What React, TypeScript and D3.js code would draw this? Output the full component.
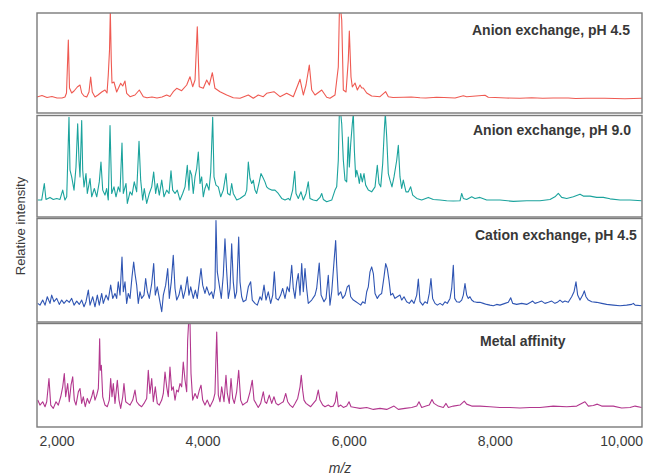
import React from 'react';
import * as d3 from 'd3';

type Pt = [number, number];

const panelTitles = ['Anion exchange, pH 4.5', 'Anion exchange, pH 9.0', 'Cation exchange, pH 4.5', 'Metal affinity'];
const xTickValues = [2000, 4000, 6000, 8000, 10000];
const xLabel = 'm/z';
const yLabel = 'Relative intensity';

// [m/z, relative intensity (% of panel height)]
const anion45: Pt[] = [
  [1725,16],[1793,17.5],[1862,15.5],[1930,16.5],[1999,15],[2067,15],[2108,16],[2129,20],[2154,73],[2170,25],[2200,20],[2232,22],[2277,26],[2314,28],[2337,20],[2369,17],[2406,16],[2437,21],[2460,36],[2482,21],[2519,16],[2560,18],[2611,21],[2656,23],[2684,20],[2701,38],[2718,63],[2729,102],[2742,53],[2752,30],[2779,31],[2816,21],[2871,29.7],[2899,27],[2930,32],[2953,19.7],[2999,16.3],[3067,18],[3126,23],[3181,16.3],[3231,15.3],[3300,16],[3368,15],[3437,16],[3501,18],[3546,16.5],[3591,21.3],[3638,24.7],[3706,22.3],[3775,28],[3820,36.3],[3857,26.3],[3889,33],[3920,86.3],[3947,26.3],[4002,24.7],[4049,33],[4085,28],[4126,40.3],[4162,24.7],[4231,21.3],[4323,18],[4413,15.3],[4505,14.7],[4619,18],[4687,14.7],[4755,18],[4824,16.3],[4870,19.7],[4970,21.3],[5053,16.3],[5144,19.7],[5235,16.3],[5327,33.7],[5372,18],[5409,28],[5454,48],[5487,23],[5532,18],[5624,23],[5692,15.7],[5737,14.7],[5806,18],[5851,46],[5866,102],[5885,102],[5898,93],[5920,23],[5957,21],[5988,53],[6002,82],[6025,36],[6043,26],[6080,30],[6112,23],[6148,28],[6172,25],[6193,25],[6240,20],[6308,17],[6422,16.3],[6500,21.3],[6536,16.3],[6600,15.5],[6741,15.7],[6850,16],[6970,15.3],[7050,15],[7198,15.7],[7300,15.5],[7450,15],[7563,17.3],[7609,16.3],[7860,17.7],[7905,15.7],[8000,15.5],[8150,15],[8339,14.7],[8500,15.3],[8650,14.8],[8795,15],[9000,15],[9100,14.5],[9252,14.7],[9500,14.8],[9777,14.3],[10010,14.7]
];

const anion90: Pt[] = [
  [1735,16.7],[1789,16.7],[1825,33],[1848,17.3],[1903,19.3],[1948,17.3],[1995,18.3],[2040,17.3],[2077,26.5],[2108,16.7],[2132,19.9],[2163,98.3],[2177,46.1],[2200,39.5],[2232,26.5],[2259,49.3],[2282,91.8],[2300,55.9],[2314,39.5],[2337,95.1],[2351,46.1],[2369,29.7],[2396,42.8],[2414,23.2],[2451,37.9],[2474,19.9],[2510,28.1],[2543,19.9],[2578,34.6],[2601,54.2],[2625,26.5],[2656,21.6],[2679,28.1],[2701,16.7],[2725,90.2],[2748,23.2],[2779,29.7],[2807,19.9],[2838,29.7],[2862,24.8],[2889,72.9],[2907,23.2],[2944,33],[2962,13.4],[2999,24.8],[3026,21.6],[3057,34.6],[3090,24.8],[3122,74.5],[3145,36.3],[3172,16.7],[3194,28.1],[3227,13.4],[3263,23.2],[3296,29.7],[3323,44.4],[3350,23.2],[3372,33],[3400,21.6],[3433,36.3],[3464,19.9],[3501,26.5],[3533,23.2],[3560,45.4],[3583,26.5],[3615,23.2],[3646,26.5],[3683,16.7],[3720,23.2],[3752,29.7],[3783,51],[3806,26.5],[3820,46.1],[3843,41.2],[3865,23.2],[3889,39.5],[3912,47.7],[3934,64],[3957,33],[3980,39.5],[4002,19.9],[4025,28.1],[4049,33],[4080,26.5],[4104,44.4],[4131,98.3],[4149,39.5],[4176,31.4],[4208,29.7],[4241,19.9],[4276,26.5],[4313,42.8],[4336,23.2],[4368,21.6],[4391,33],[4413,23.2],[4460,16.7],[4505,18.3],[4573,21.6],[4597,26.5],[4619,54.2],[4642,37.9],[4665,33],[4687,36.3],[4710,26.5],[4733,23.2],[4769,34.6],[4792,42.8],[4816,39.5],[4847,34.6],[4870,29.7],[4892,28.1],[4939,26.5],[4984,26.5],[5029,23.2],[5076,18.3],[5121,16.7],[5166,18.3],[5190,16.7],[5226,26.5],[5254,45.1],[5272,23.2],[5303,18.3],[5340,24.8],[5372,16.7],[5409,23.2],[5440,34.6],[5463,18.3],[5509,16.7],[5555,16],[5600,19.3],[5624,23.2],[5646,17.3],[5692,15],[5761,16.7],[5806,26.5],[5829,29.7],[5851,55.9],[5865,102],[5884,102],[5898,91.8],[5920,55.9],[5943,36.3],[5966,34.6],[5988,78.8],[6002,49.3],[6021,72.2],[6043,91.8],[6057,102],[6071,65.7],[6089,39.5],[6103,46.1],[6125,39.5],[6139,33],[6158,42.8],[6180,34.6],[6203,42.8],[6226,31.4],[6262,26.5],[6308,24.8],[6354,29.7],[6385,51],[6408,33],[6432,29.7],[6459,52.6],[6481,85.3],[6495,102],[6514,78.8],[6536,42.8],[6559,36.3],[6586,29.7],[6614,39.5],[6651,55.9],[6673,70.6],[6696,39.5],[6719,28.1],[6741,36.3],[6778,24.8],[6810,24.8],[6842,29.7],[6870,21.6],[6925,18.3],[6993,16.7],[7084,19.3],[7152,17.3],[7244,16.7],[7335,16],[7426,15.7],[7518,16],[7541,23.2],[7563,18.3],[7609,17.3],[7678,19.9],[7723,18.3],[7791,19.3],[7883,16.7],[8065,16.7],[8248,15.4],[8431,16],[8613,16],[8750,17.3],[8818,19.9],[8864,23.2],[8910,19.3],[8979,18.3],[9070,19.9],[9161,22.5],[9206,20.6],[9298,20.6],[9389,19.3],[9480,19.3],[9572,17.9],[9709,16.7],[9846,16.7],[10006,16]
];

const cation45: Pt[] = [
  [1735,18],[1766,16.3],[1803,21.2],[1835,16.3],[1866,24.4],[1903,18],[1926,26],[1958,19.6],[1995,22.8],[2030,17],[2063,21.2],[2095,18],[2132,21.2],[2167,19],[2200,22.8],[2232,16.3],[2269,20.2],[2304,17],[2337,21.2],[2369,14.7],[2396,19.6],[2428,30.8],[2451,16.3],[2488,24.4],[2519,14.7],[2551,26],[2578,16.3],[2611,27.6],[2633,18],[2670,26],[2701,21.2],[2734,35.6],[2762,22.8],[2793,27.6],[2816,22.8],[2838,38.8],[2862,26],[2889,62.8],[2907,29.2],[2930,38.8],[2953,18],[2975,27.6],[2999,22.8],[3026,43.6],[3049,58],[3067,46.8],[3090,35.6],[3112,18],[3135,29.2],[3158,22.8],[3190,26],[3213,42],[3236,29.2],[3263,22.8],[3296,37.2],[3323,56.4],[3345,26],[3372,34],[3400,22.8],[3433,9.9],[3455,26],[3487,35.6],[3515,51.6],[3537,22.8],[3564,38.8],[3591,64.4],[3615,32.4],[3638,21.2],[3669,26],[3697,35.6],[3728,22.8],[3756,30.8],[3783,43.6],[3806,26],[3830,34],[3865,22.8],[3893,30.8],[3920,22.8],[3948,38.8],[3971,51.6],[3994,35.6],[4025,27.6],[4049,34],[4085,26],[4117,29.2],[4139,22.8],[4162,32.4],[4176,98.1],[4194,48.4],[4221,35.6],[4249,22.8],[4276,45.2],[4299,80.4],[4323,48.4],[4345,22.8],[4368,32.4],[4391,75.6],[4413,38.8],[4436,22.8],[4459,29.2],[4487,82.1],[4505,38.8],[4528,24.4],[4550,19.6],[4587,21.2],[4619,34],[4651,38.8],[4673,21.2],[4710,18],[4742,16.3],[4779,24.4],[4802,21.2],[4834,35.6],[4861,21.2],[4892,29.2],[4925,18],[4953,26],[4975,48.4],[4998,22.8],[5029,21.2],[5062,26],[5089,32.4],[5121,22.8],[5152,34],[5180,29.2],[5213,54.8],[5235,32.4],[5258,22.8],[5281,38.8],[5303,46.8],[5327,26],[5350,56.4],[5372,29.2],[5395,51.6],[5418,32.4],[5440,18],[5487,21.2],[5532,26],[5555,32.4],[5590,57],[5615,26],[5655,19.6],[5683,22.8],[5714,45.2],[5737,16.3],[5761,29.2],[5792,58],[5815,78.8],[5829,54.8],[5851,26],[5884,29.2],[5911,22.8],[5943,26],[5974,34],[5998,35.6],[6021,24.4],[6057,21.2],[6093,19.6],[6125,18],[6158,16.3],[6185,19.6],[6217,18],[6240,29.2],[6262,34],[6285,48.4],[6308,53.2],[6331,46.8],[6354,27.6],[6385,22.8],[6413,26],[6445,27.6],[6477,43.6],[6500,56.4],[6522,51.6],[6545,40.4],[6569,26],[6596,27.6],[6627,22.8],[6659,24.4],[6696,26],[6719,21.2],[6751,24.4],[6787,19.6],[6823,18],[6856,21.2],[6888,18],[6925,26],[6947,41.4],[6970,19.6],[7007,16.3],[7038,19.6],[7070,18],[7097,27.6],[7120,42],[7143,22.8],[7175,18],[7207,16.3],[7244,18],[7280,16.3],[7312,19.6],[7344,18],[7381,22.8],[7404,32.4],[7426,54.8],[7445,22.8],[7472,19.6],[7508,19],[7541,21.2],[7563,26],[7586,37.2],[7609,26],[7631,22.8],[7654,24.4],[7678,21.2],[7709,19.6],[7746,19],[7791,19],[7837,18],[7883,17],[7928,16.3],[7974,15.7],[8020,17],[8065,16.3],[8134,18],[8179,19],[8212,23.4],[8239,18],[8294,17],[8362,18],[8431,17],[8485,19],[8513,20.2],[8545,18],[8590,19],[8636,20.2],[8681,18],[8727,19],[8773,20.2],[8818,18],[8850,19],[8887,21.2],[8924,19],[8955,20.2],[9000,19],[9047,24.4],[9079,29.2],[9106,38.8],[9129,26],[9161,21.2],[9198,26],[9220,30.1],[9243,24.4],[9275,21.2],[9321,19.6],[9389,19],[9458,18],[9526,17],[9617,16.3],[9709,15.7],[9800,16.3],[9869,17],[9892,18],[9915,16.3],[10006,15.7]
];

const metalAffinity: Pt[] = [
  [1735,26],[1766,21.2],[1803,24.4],[1835,19.6],[1858,24.4],[1889,46.8],[1913,21.2],[1948,18],[1985,24.4],[2017,21.2],[2050,29.2],[2077,38.8],[2099,51.6],[2118,29.2],[2145,42],[2167,24.4],[2191,40.4],[2214,48.4],[2236,26],[2259,21.2],[2291,34],[2314,37.2],[2337,22.8],[2359,29.2],[2386,19.6],[2414,27.6],[2441,22.8],[2474,29.2],[2496,35.6],[2519,26],[2543,30.8],[2565,37.2],[2574,58],[2583,85.3],[2592,54.8],[2606,59.6],[2625,29.2],[2656,21.2],[2688,19.6],[2715,26],[2734,46.8],[2752,29.2],[2770,42],[2793,22.8],[2825,45.2],[2848,26],[2871,18],[2899,29.2],[2916,42],[2940,24.4],[2967,22.8],[2999,21.2],[3036,26],[3067,35.6],[3090,24.4],[3126,21.2],[3158,19.6],[3190,22.8],[3227,27.6],[3249,54.8],[3272,32.4],[3296,46.8],[3318,24.4],[3345,38.8],[3372,22.8],[3400,21.2],[3433,26],[3455,32.4],[3478,53.2],[3501,38.8],[3523,29.2],[3546,58],[3569,35.6],[3591,38.8],[3615,26],[3638,35.6],[3660,34],[3683,42],[3706,38.8],[3728,62.8],[3752,45.2],[3775,34],[3788,83.7],[3802,102],[3820,102],[3834,51.6],[3857,26],[3889,32.4],[3920,27.6],[3948,35.6],[3971,40.4],[3994,26],[4025,21.2],[4057,26],[4094,19.6],[4139,26],[4162,32.4],[4186,91.7],[4208,30.8],[4231,24.4],[4254,38.8],[4286,24.4],[4313,50],[4331,32.4],[4358,22.8],[4382,46.8],[4405,27.6],[4427,22.8],[4459,34],[4487,54.8],[4514,26],[4542,21.2],[4573,22.8],[4605,24.4],[4642,34],[4673,45.2],[4697,26],[4724,22.8],[4755,18.9],[4788,22.8],[4824,34],[4847,24.4],[4870,22.8],[4906,30.8],[4939,22.8],[4970,29.2],[4998,22.8],[5029,21.2],[5062,22.8],[5098,24.4],[5131,32.4],[5158,24.4],[5190,21.2],[5226,18.9],[5258,22.8],[5295,27.6],[5327,38.8],[5344,50],[5363,35.6],[5381,26],[5409,22.8],[5440,21.2],[5473,19.6],[5509,22.8],[5546,26],[5577,35.6],[5600,26],[5637,21.2],[5669,19.6],[5714,21.2],[5747,19.6],[5783,20.2],[5810,24.4],[5829,34],[5851,19.6],[5884,21.2],[5920,18.9],[5966,20.2],[5998,24.4],[6025,19.6],[6080,18.9],[6148,18],[6240,18.9],[6331,17],[6422,18],[6514,17],[6614,20.2],[6673,17],[6764,18],[6856,18.9],[6925,20.2],[6956,24.4],[6993,18.9],[7052,20.2],[7097,21.2],[7134,26.6],[7162,22.8],[7220,20.2],[7289,18.9],[7326,22.8],[7358,18.9],[7426,20.2],[7518,21.2],[7576,25],[7609,22.1],[7678,20.2],[7791,20.2],[7928,19.6],[8065,18.9],[8202,18.9],[8339,18.3],[8476,18.9],[8613,18.9],[8795,20.2],[8979,19.6],[9116,20.2],[9229,24.4],[9275,20.2],[9343,20.8],[9398,22.1],[9458,20.2],[9617,20.2],[9732,18.3],[9846,18.9],[9915,20.2],[10006,18.9]
];

const seriesList = [anion45, anion90, cation45, metalAffinity];
const seriesColors = ['#ef5a52', '#1ba39d', '#2f55b3', '#b2378e'];

export default function App() {
  const W = 648, H = 475;
  const left = 37, right = 642;
  const panels = [
    { top: 13, bottom: 113, tx: 472, ty: 35 },
    { top: 115.5, bottom: 217, tx: 473, ty: 135 },
    { top: 218.5, bottom: 322, tx: 475, ty: 240 },
    { top: 323.5, bottom: 427, tx: 480, ty: 346 },
  ];
  const x = d3.scaleLinear().domain([1725, 10010]).range([left, right]);
  const font = "'Liberation Sans', Arial, Helvetica, sans-serif";

  return (
    <svg width={W} height={H} style={{ position: 'absolute', left: 0, top: 0, background: '#fff' }}>
      <defs>
        {panels.map((p, i) => (
          <clipPath id={`clip${i}`} key={i}>
            <rect x={left} y={p.top} width={right - left} height={p.bottom - p.top} />
          </clipPath>
        ))}
      </defs>
      {panels.map((p, i) => {
        const y = d3.scaleLinear().domain([0, 100]).range([p.bottom, p.top]);
        const line = d3.line<Pt>().x(d => x(d[0])).y(d => y(d[1]));
        return (
          <g key={i}>
            <path d={line(seriesList[i]) || ''} fill="none" stroke={seriesColors[i]} strokeWidth={1.1}
              strokeLinejoin="round" clipPath={`url(#clip${i})`} />
            <rect x={left} y={p.top} width={right - left} height={p.bottom - p.top}
              fill="none" stroke="#7a7a7a" strokeWidth={1.4} />
            <text x={p.tx} y={p.ty} fontFamily={font} fontSize={14} fontWeight={600} fill="#383838">
              {panelTitles[i]}
            </text>
          </g>
        );
      })}
      {xTickValues.map((t, i) => (
        <text key={t} x={i === xTickValues.length - 1 ? 643 : x(t)} y={446}
          textAnchor={i === xTickValues.length - 1 ? 'end' : 'middle'}
          fontFamily={font} fontSize={14} fill="#3a3a3a">
          {d3.format(',')(t)}
        </text>
      ))}
      <text x={340} y={473} textAnchor="middle" fontFamily={font} fontSize={14} fontStyle="italic" fill="#3a3a3a">
        {xLabel}
      </text>
      <text transform="translate(25,226) rotate(-90)" textAnchor="middle" fontFamily={font} fontSize={13} fill="#3a3a3a">
        {yLabel}
      </text>
    </svg>
  );
}
